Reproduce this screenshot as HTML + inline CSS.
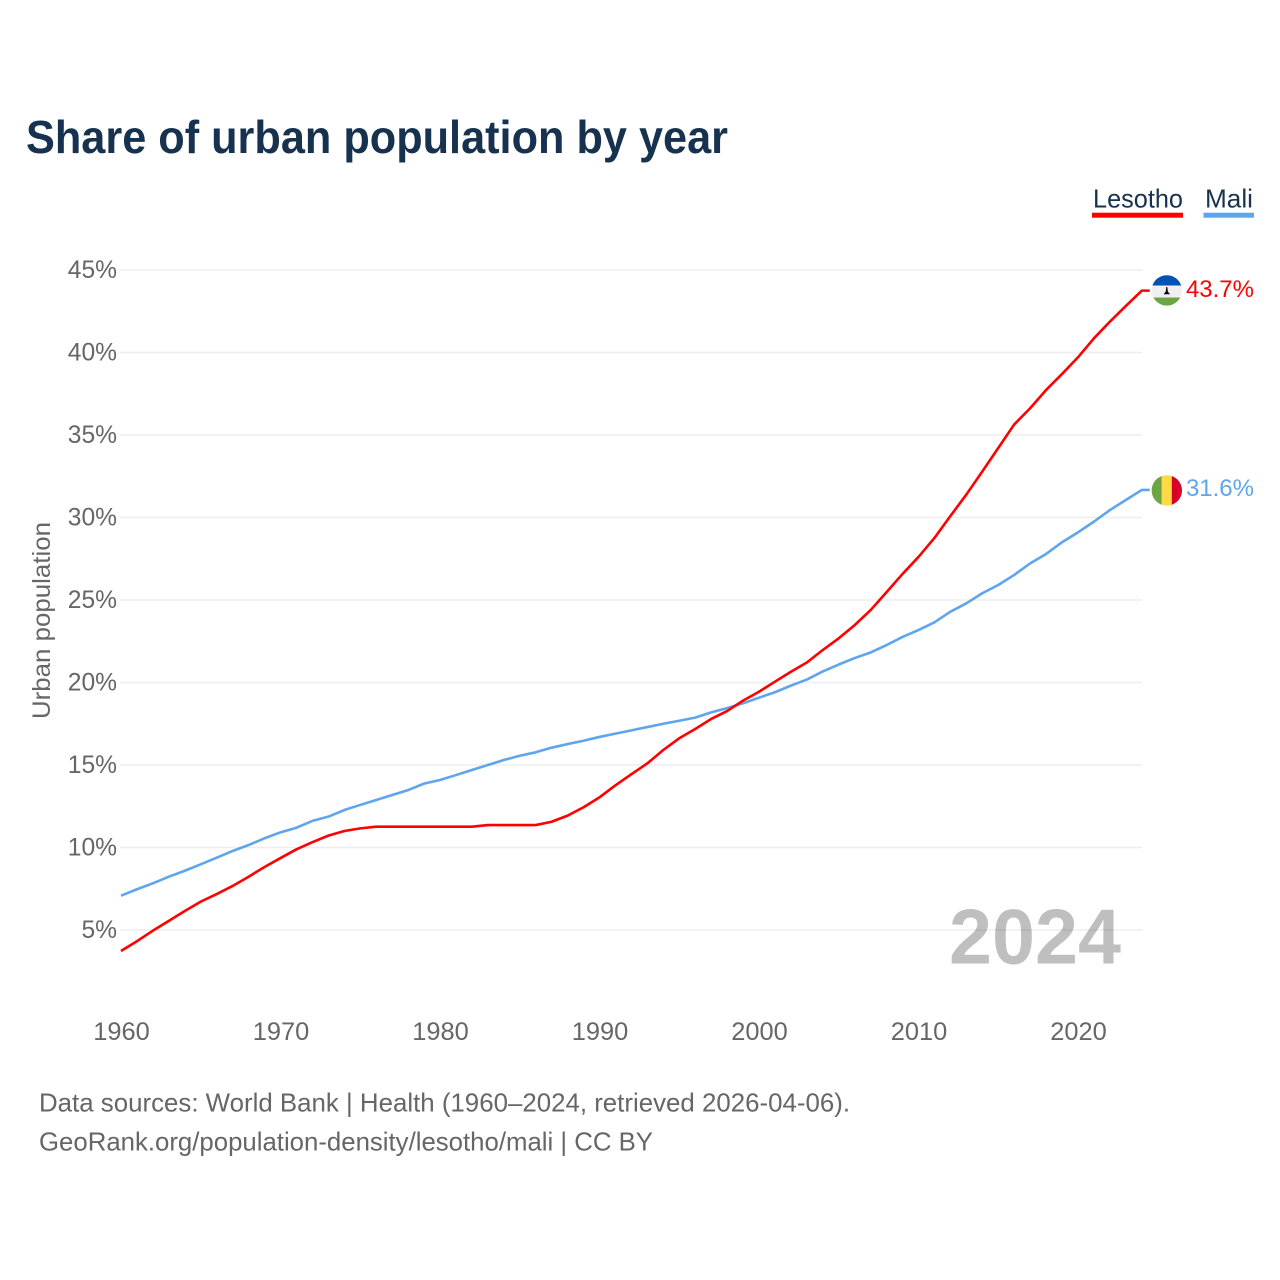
<!DOCTYPE html>
<html lang="en">
<head>
<meta charset="utf-8">
<title>Share of urban population by year</title>
<style>
html,body{margin:0;padding:0;background:#fff;width:1280px;height:1280px;overflow:hidden}
svg{display:block}
text{font-family:"Liberation Sans",sans-serif}
</style>
</head>
<body>
<svg id="chart" xmlns="http://www.w3.org/2000/svg" width="1280" height="1280" viewBox="0 0 1280 1280">
  <defs>
    <clipPath id="flag-clip-lesotho"><circle cx="1166.8" cy="290.4" r="15.2"/></clipPath>
    <clipPath id="flag-clip-mali"><circle cx="1166.8" cy="490.4" r="15.2"/></clipPath>
  </defs>
  <rect width="1280" height="1280" fill="#fff"/>
  <text x="26" y="153" font-size="46" font-weight="700" fill="#17324f" textLength="702" lengthAdjust="spacingAndGlyphs">Share of urban population by year</text>

  <g>
    <text x="1093" y="207.5" font-size="26" fill="#17324f" textLength="90" lengthAdjust="spacingAndGlyphs">Lesotho</text>
    <rect x="1092" y="212.7" width="91" height="5" fill="#ff0000"/>
  </g>
  <g>
    <text x="1205" y="207.5" font-size="26" fill="#17324f" textLength="48" lengthAdjust="spacingAndGlyphs">Mali</text>
    <rect x="1203.5" y="212.7" width="50.5" height="5" fill="#5ea5ee"/>
  </g>

  <g id="grid"></g>
  <g id="y-axis"></g>
  <g id="x-axis"></g>

  <text transform="translate(50,719) rotate(-90)" font-size="25" fill="#666" textLength="197" lengthAdjust="spacingAndGlyphs">Urban population</text>
  <text x="949" y="963.5" font-size="78" font-weight="700" fill="#000" fill-opacity="0.25" textLength="172" lengthAdjust="spacingAndGlyphs">2024</text>

  <g id="series"></g>

  <g clip-path="url(#flag-clip-lesotho)">
    <rect x="1150" y="274" width="34" height="11.5" fill="#0052b4"/>
    <rect x="1150" y="285.5" width="34" height="12" fill="#f0f0f0"/>
    <rect x="1150" y="297.5" width="34" height="10" fill="#6da544"/>
    <path d="M1166.3 287 L1167.3 287 L1167.8 291.5 L1170 294.2 L1163.6 294.2 L1165.8 291.5 Z" fill="#000"/>
  </g>
  <g clip-path="url(#flag-clip-mali)">
    <rect x="1150" y="474" width="11.8" height="33" fill="#6da544"/>
    <rect x="1161.8" y="474" width="10" height="33" fill="#ffda44"/>
    <rect x="1171.8" y="474" width="11" height="33" fill="#d80027"/>
  </g>

  <g id="end-labels"></g>

  <text x="39" y="1111.5" font-size="26" fill="#666" textLength="811" lengthAdjust="spacingAndGlyphs">Data sources: World Bank | Health (1960–2024, retrieved 2026-04-06).</text>
  <text x="39" y="1150.5" font-size="26" fill="#666" textLength="614" lengthAdjust="spacingAndGlyphs">GeoRank.org/population-density/lesotho/mali | CC BY</text>
</svg>
<script>
const firstYear = 1960;
const lesothoValues = [3.73,4.32,4.96,5.55,6.15,6.72,7.18,7.67,8.23,8.82,9.36,9.89,10.32,10.72,11.0,11.16,11.26,11.26,11.26,11.26,11.26,11.26,11.26,11.36,11.36,11.36,11.36,11.56,11.93,12.44,13.04,13.77,14.44,15.10,15.91,16.62,17.18,17.79,18.27,18.90,19.44,20.05,20.65,21.21,21.97,22.68,23.48,24.39,25.48,26.58,27.61,28.76,30.09,31.39,32.79,34.21,35.64,36.62,37.73,38.70,39.71,40.86,41.87,42.82,43.75];
const maliValues = [7.08,7.47,7.83,8.23,8.59,8.98,9.38,9.79,10.15,10.56,10.92,11.2,11.61,11.87,12.27,12.58,12.88,13.18,13.48,13.87,14.09,14.39,14.70,15.0,15.30,15.56,15.77,16.05,16.27,16.47,16.70,16.90,17.10,17.30,17.50,17.68,17.87,18.19,18.45,18.74,19.08,19.41,19.81,20.18,20.67,21.09,21.48,21.82,22.27,22.76,23.18,23.65,24.29,24.80,25.41,25.91,26.52,27.22,27.79,28.50,29.10,29.75,30.45,31.06,31.67];
const yTickValues = [5,10,15,20,25,30,35,40,45];
const xTickValues = [1960,1970,1980,1990,2000,2010,2020];
const lesothoEndLabel = '43.7%';
const maliEndLabel = '31.6%';

const NS = 'http://www.w3.org/2000/svg';
function xScale(year) { return 121 + (year - 1960) * 15.95; }
function yScale(value) { return 930 - (value - 5) * 16.5; }
function make(tag, parent) {
  const el = document.createElementNS(NS, tag);
  parent.appendChild(el);
  return el;
}

const gridGroup = document.getElementById('grid');
const yAxisGroup = document.getElementById('y-axis');
const xAxisGroup = document.getElementById('x-axis');
const seriesGroup = document.getElementById('series');
const labelGroup = document.getElementById('end-labels');

yTickValues.forEach(function (tick) {
  const line = make('line', gridGroup);
  
  
  line.setAttribute('x1', 120);
  line.setAttribute('x2', 1142);
  line.setAttribute('y1', yScale(tick));
  line.setAttribute('y2', yScale(tick));
  line.setAttribute('stroke', '#eeeeee');
  line.setAttribute('stroke-width', 1.6);
  const label = make('text', yAxisGroup);
  
  
  label.setAttribute('x', 117);
  label.setAttribute('y', yScale(tick) + 7.8);
  label.setAttribute('text-anchor', 'end');
  label.setAttribute('font-size', 24.6);
  label.setAttribute('fill', '#666');
  label.textContent = tick + '%';
});

xTickValues.forEach(function (tick) {
  const label = make('text', xAxisGroup);
  
  
  label.setAttribute('x', xScale(tick) + 0.5);
  label.setAttribute('y', 1040);
  label.setAttribute('text-anchor', 'middle');
  label.setAttribute('font-size', 25.4);
  label.setAttribute('fill', '#666');
  label.textContent = tick;
});

function drawSeries(name, values, color, endText) {
  const parts = values.map(function (value, i) {
    return (i ? 'L' : 'M') + xScale(firstYear + i).toFixed(2) + ' ' + yScale(value).toFixed(2);
  });
  const lastValue = values[values.length - 1];
  const lastX = xScale(firstYear + values.length - 1);
  parts.push('L' + (lastX + 8).toFixed(2) + ' ' + yScale(lastValue).toFixed(2));
  const path = make('path', seriesGroup);
  
  
  path.setAttribute('d', parts.join(' '));
  path.setAttribute('fill', 'none');
  path.setAttribute('stroke', color);
  path.setAttribute('stroke-width', 2.6);
  path.setAttribute('stroke-linejoin', 'round');
  const label = make('text', labelGroup);
  
  
  label.setAttribute('x', 1254);
  label.setAttribute('y', yScale(lastValue) + 6.3);
  label.setAttribute('text-anchor', 'end');
  label.setAttribute('font-size', 24);
  label.setAttribute('fill', color);
  label.textContent = endText;
}

drawSeries('mali', maliValues, '#5ea5ee', maliEndLabel);
drawSeries('lesotho', lesothoValues, '#ff0000', lesothoEndLabel);
</script>
</body>
</html>
